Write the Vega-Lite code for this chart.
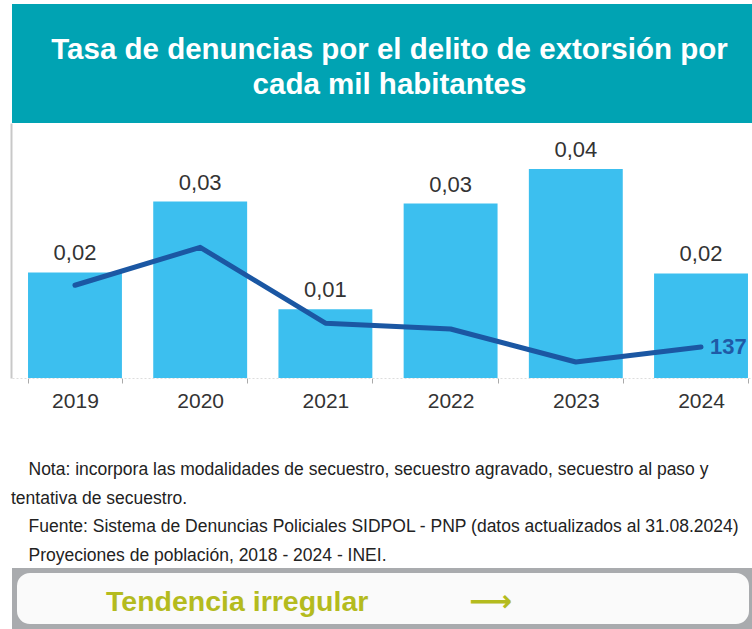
{
  "$schema": "https://vega.github.io/schema/vega-lite/v6.json",
  "padding": {"left": 11, "top": 4, "right": 0, "bottom": 0},
  "background": "#ffffff",
  "spacing": 4,
  "config": {
    "font": "Liberation Sans",
    "locale": {"number": {"decimal": ",", "thousands": ".", "grouping": [3], "currency": ["", ""]}},
    "view": {"stroke": null}
  },
  "vconcat": [
    {
      "spacing": 0,
      "vconcat": [
        {
          "width": 741,
          "height": 119,
          "view": {"fill": "#00A3B3", "stroke": null},
          "data": {"values": [{"t": "Tasa de denuncias por el delito de extorsión por\ncada mil habitantes"}]},
          "mark": {"type": "text", "lineBreak": "\n", "color": "#ffffff", "fontSize": 29.5, "fontWeight": "bold", "lineHeight": 35, "align": "center", "baseline": "middle", "dx": 7, "dy": -13.5},
          "encoding": {"text": {"field": "t"}}
        },
        {
          "width": 752,
          "height": 255,
          "data": {"values": [
            {"year": "2019", "tasa": 0.0207, "n": 411},
            {"year": "2020", "tasa": 0.0346, "n": 579},
            {"year": "2021", "tasa": 0.0135, "n": 243},
            {"year": "2022", "tasa": 0.0342, "n": 217},
            {"year": "2023", "tasa": 0.0410, "n": 71},
            {"year": "2024", "tasa": 0.0205, "n": 137}
          ]},
          "title": {
            "text": ["\u200b\u2002\u2002Nota: incorpora las modalidades de secuestro, secuestro agravado, secuestro al paso y", "tentativa de secuestro.", "\u200b\u2002\u2002Fuente: Sistema de Denuncias Policiales SIDPOL - PNP (datos actualizados al 31.08.2024)", "\u200b\u2002\u2002Proyeciones de población, 2018 - 2024 - INEI."],
            "orient": "bottom", "anchor": "start", "fontSize": 17.5, "fontWeight": "normal", "color": "#222222", "lineHeight": 28.5, "offset": 50
          },
          "encoding": {
            "x": {"field": "year", "type": "ordinal", "title": null,
              "scale": {"paddingInner": 0.25, "paddingOuter": 0.128},
              "axis": {"labelAngle": 0, "labelFontSize": 21, "labelColor": "#333333", "labelPadding": 7, "tickBand": "extent", "tickSize": 5, "tickColor": "#aaaaaa", "domainColor": "#dddddd", "domainDash": [2, 2], "grid": false}}
          },
          "layer": [
            {
              "layer": [
                {
                  "mark": {"type": "bar", "color": "#3CBFEF"},
                  "encoding": {"y": {"field": "tasa", "type": "quantitative", "scale": {"domain": [0, 0.05], "nice": false}, "title": null,
                    "axis": {"labels": false, "ticks": false, "grid": false, "domain": true, "domainColor": "#c8c8c8", "domainWidth": 2, "offset": 1}}}
                },
                {
                  "mark": {"type": "text", "fontSize": 22, "color": "#333333", "baseline": "bottom", "dy": -7},
                  "encoding": {"y": {"field": "tasa", "type": "quantitative"}, "text": {"field": "tasa", "type": "quantitative", "format": ".2f"}}
                }
              ]
            },
            {
              "layer": [
                {
                  "mark": {"type": "line", "color": "#1B57A3", "strokeWidth": 5, "strokeCap": "round", "strokeJoin": "round"},
                  "encoding": {"y": {"field": "n", "type": "quantitative", "scale": {"domain": [0, 1130], "nice": false}, "axis": null}}
                },
                {
                  "transform": [{"filter": "datum.year === '2024'"}],
                  "mark": {"type": "text", "fontSize": 22, "fontWeight": "bold", "color": "#1F5AA6", "align": "left", "baseline": "middle", "dx": 9},
                  "encoding": {"y": {"field": "n", "type": "quantitative"}, "text": {"field": "n", "type": "quantitative"}}
                }
              ]
            }
          ],
          "resolve": {"scale": {"y": "independent"}}
        }
      ]
    },
    {
      "width": 742,
      "height": 61,
      "view": {"fill": "#a9abae", "stroke": null},
      "layer": [
        {
          "data": {"values": [{"k": "box"}]},
          "mark": {"type": "rect", "fill": "#fafafa", "stroke": "#a9abae", "strokeWidth": 10, "cornerRadius": 18, "clip": true}
        },
        {
          "data": {"values": [{"t": "Tendencia irregular"}]},
          "mark": {"type": "text", "fontSize": 28.5, "fontWeight": "bold", "color": "#B4BB1E", "align": "left", "baseline": "middle", "dx": -277, "dy": 3},
          "encoding": {"text": {"field": "t"}}
        },
        {
          "data": {"values": [{"t": "⟶"}]},
          "mark": {"type": "text", "font": "DejaVu Sans", "fontSize": 30, "fontWeight": "bold", "color": "#B4BB1E", "align": "left", "baseline": "middle", "dx": 86, "dy": 3},
          "encoding": {"text": {"field": "t"}}
        }
      ]
    }
  ]
}
